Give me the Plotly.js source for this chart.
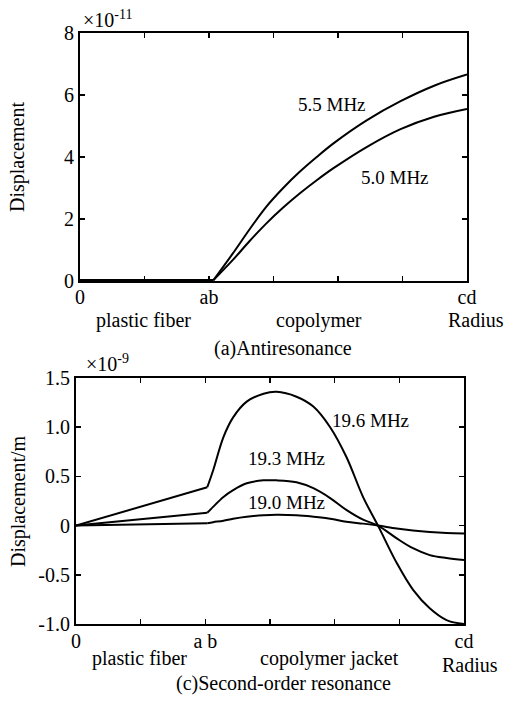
<!DOCTYPE html>
<html>
<head>
<meta charset="utf-8">
<script src="https://cdn.plot.ly/plotly-3.0.1.min.js"></script>
<style>
html,body{margin:0;padding:0;background:#fff;}
#chart{width:508px;height:701px;}
</style>
</head>
<body>
<div id="chart"></div>
<script>
// ---- data: (a) Antiresonance (units of 1e-11) ----
const radiusA = [0, 2.07, 2.37, 2.63, 2.89, 3.15, 3.41, 3.67, 3.93, 4.45, 4.97, 5.49, 6];
const disp55 = [0.03, 0.03, 0.89, 1.67, 2.40, 3.00, 3.53, 4.00, 4.44, 5.19, 5.80, 6.30, 6.66];
const disp50 = [0.03, 0.03, 0.68, 1.29, 1.86, 2.37, 2.83, 3.25, 3.64, 4.33, 4.90, 5.30, 5.55];

// ---- data: (c) Second-order resonance (units of 1e-9 m) ----
const radiusC = [0, 2.03, 2.12, 2.28, 2.43, 2.64, 2.90, 3.10, 3.41, 3.67, 3.93, 4.18, 4.44, 4.67, 4.96, 5.21, 5.47, 5.73, 6];
const disp196 = [0, 0.39, 0.56, 0.90, 1.10, 1.26, 1.34, 1.36, 1.31, 1.21, 1.00, 0.70, 0.29, 0, -0.38, -0.65, -0.84, -0.96, -1.0];
const disp193 = [0, 0.13, 0.19, 0.29, 0.36, 0.43, 0.46, 0.46, 0.44, 0.38, 0.28, 0.16, 0.06, 0, -0.13, -0.23, -0.30, -0.33, -0.35];
const disp190 = [0, 0.025, 0.035, 0.05, 0.07, 0.09, 0.105, 0.11, 0.105, 0.09, 0.07, 0.04, 0.02, 0, -0.03, -0.05, -0.065, -0.075, -0.08];

// ---- tick labels ----
const xTickVals = [0, 1, 2, 3, 4, 5, 6];
const xTickTextA = ['0', '', 'ab', '', '', '', 'cd'];
const xTickTextC = ['0', '', 'a b', '', '', '', 'cd'];
const yTickValsA = [0, 2, 4, 6, 8];
const yTickTextA = ['0', '2', '4', '6', '8'];
const yTickValsC = [-1.0, -0.5, 0, 0.5, 1.0, 1.5];
const yTickTextC = ['-1.0', '-0.5', '0', '0.5', '1.0', '1.5'];

const W = 508, H = 701;
const px = v => v / W;
const py = v => 1 - v / H;
const SERIF = 'Liberation Serif';

const KINK = 1; // index where the interface "ab" kink sits
function segs(x, y, xa, ya) {
  return [
    {x: x.slice(0, KINK + 1), y: y.slice(0, KINK + 1), xaxis: xa, yaxis: ya, mode: 'lines',
     line: {color: '#000', width: 2}, hoverinfo: 'skip'},
    {x: x.slice(KINK), y: y.slice(KINK), xaxis: xa, yaxis: ya, mode: 'lines',
     line: {color: '#000', width: 2, shape: 'spline', smoothing: 1}, hoverinfo: 'skip'}
  ];
}
const traces = [].concat(
  segs(radiusA, disp55, 'x', 'y'),
  segs(radiusA, disp50, 'x', 'y'),
  segs(radiusC, disp196, 'x2', 'y2'),
  segs(radiusC, disp193, 'x2', 'y2'),
  segs(radiusC, disp190, 'x2', 'y2')
);

const axisCommon = {
  showline: true, linecolor: '#000', linewidth: 2, mirror: 'ticks',
  ticks: 'inside', ticklen: 5, tickwidth: 1.5, tickcolor: '#000',
  showgrid: false, zeroline: false, automargin: false,
  tickfont: {family: SERIF, size: 20, color: '#000'}
};

const ann = (text, x, y, xref, yref, extra) => Object.assign({
  text: text, x: x, y: y, xref: xref, yref: yref, showarrow: false,
  font: {family: SERIF, size: 20, color: '#000'}, xanchor: 'center', yanchor: 'middle'
}, extra || {});
const f19 = {font: {family: SERIF, size: 19, color: '#000'}};

const layout = {
  width: W, height: H,
  margin: {l: 0, r: 0, t: 0, b: 0},
  paper_bgcolor: '#fff', plot_bgcolor: '#fff',
  showlegend: false,
  font: {family: SERIF, color: '#000'},
  xaxis: Object.assign({}, axisCommon, {domain: [px(80), px(467)], range: [0, 6], tickvals: xTickVals, ticktext: xTickTextA, anchor: 'y', ticklabelstandoff: -3}),
  yaxis: Object.assign({}, axisCommon, {domain: [py(281), py(33)], range: [0, 8], tickvals: yTickValsA, ticktext: yTickTextA, anchor: 'x'}),
  xaxis2: Object.assign({}, axisCommon, {domain: [px(76), px(464)], range: [0, 6], tickvals: xTickVals, ticktext: xTickTextC, anchor: 'y2', ticklabelstandoff: -2}),
  yaxis2: Object.assign({}, axisCommon, {domain: [py(624), py(378)], range: [-1.0, 1.5], tickvals: yTickValsC, ticktext: yTickTextC, anchor: 'x2'}),
  annotations: [
    ann('×10<sup>-11</sup>', px(81), py(19), 'paper', 'paper', {xanchor: 'left'}),
    ann('Displacement', px(18), py(157), 'paper', 'paper', {textangle: -90}),
    ann('5.5 MHz', 3.91, 5.68, 'x', 'y', f19),
    ann('5.0 MHz', 4.88, 3.35, 'x', 'y', f19),
    ann('plastic fiber', px(143), py(320), 'paper', 'paper'),
    ann('copolymer', px(319), py(320), 'paper', 'paper'),
    ann('Radius', px(476), py(320), 'paper', 'paper'),
    ann('(a)Antiresonance', px(283), py(348), 'paper', 'paper'),

    ann('×10<sup>-9</sup>', px(84), py(363), 'paper', 'paper', {xanchor: 'left'}),
    ann('Displacement/m', px(18), py(501), 'paper', 'paper', {textangle: -90}),
    ann('19.6 MHz', 4.56, 1.07, 'x2', 'y2', f19),
    ann('19.3 MHz', 3.26, 0.68, 'x2', 'y2', f19),
    ann('19.0 MHz', 3.26, 0.23, 'x2', 'y2', f19),
    ann('plastic fiber', px(139), py(658), 'paper', 'paper'),
    ann('copolymer jacket', px(329), py(658), 'paper', 'paper'),
    ann('Radius', px(470), py(665), 'paper', 'paper'),
    ann('(c)Second-order resonance', px(283), py(683), 'paper', 'paper')
  ]
};

Plotly.newPlot('chart', traces, layout, {staticPlot: true, displayModeBar: false});
</script>
</body>
</html>
